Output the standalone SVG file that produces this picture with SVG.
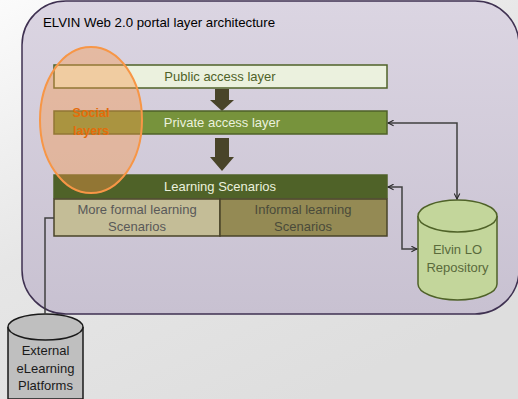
<svg xmlns="http://www.w3.org/2000/svg" width="518" height="399" viewBox="0 0 518 399">
<defs>
  <linearGradient id="bg" x1="0" y1="0" x2="0.6" y2="1">
    <stop offset="0" stop-color="#fbfbfb"/>
    <stop offset="0.5" stop-color="#e6e6e6"/>
    <stop offset="1" stop-color="#dedede"/>
  </linearGradient>
  <linearGradient id="panel" x1="0" y1="0" x2="0" y2="1">
    <stop offset="0" stop-color="#dbd5e2"/>
    <stop offset="1" stop-color="#c8c1d1"/>
  </linearGradient>
  <marker id="arr" viewBox="0 0 10 10" refX="9" refY="5" markerWidth="7" markerHeight="7" orient="auto-start-reverse" markerUnits="userSpaceOnUse">
    <path d="M1,1 L9,5 L1,9" fill="none" stroke="#262626" stroke-width="1.5"/>
  </marker>
  <style>
    text { font-family: "Liberation Sans", Arial, sans-serif; }
    .lbl { font-size: 13px; text-anchor: middle; }
    .box { stroke: #4f6228; stroke-width: 1.5; }
    .blk { fill: #494429; }
    .conn { fill: none; stroke: #404040; stroke-width: 1.5; }
    .soc { font-size: 12.5px; font-weight: bold; text-anchor: middle; fill: #e46c0a; }
  </style>
</defs>
<rect x="0" y="0" width="518" height="399" fill="url(#bg)"/>
<g id="container">
  <rect x="22" y="1" width="497" height="313" rx="44" ry="44" fill="url(#panel)" stroke="#3f3151" stroke-width="1.5"/>
  <text x="43" y="27" font-size="13" fill="#000" textLength="232" lengthAdjust="spacingAndGlyphs">ELVIN Web 2.0 portal layer architecture</text>
</g>
<g id="public-layer">
  <rect class="box" x="54" y="65" width="333" height="23" fill="#ebf1de"/>
  <text class="lbl" x="220" y="81" fill="#4f6228">Public access layer</text>
</g>
<g id="arrow1">
  <polygon class="blk" points="215,89 229,89 229,100 234,100 222,111 210,100 215,100"/>
</g>
<g id="private-layer">
  <rect class="box" x="54" y="111" width="333" height="23" fill="#77933c"/>
  <text class="lbl" x="222" y="127" fill="#ebf1de">Private access layer</text>
</g>
<g id="arrow2">
  <polygon class="blk" points="215,138 229,138 229,157 234,157 222,171 210,157 215,157"/>
</g>
<g id="learning-scenarios">
  <rect x="54" y="175" width="333" height="23" fill="#4f6228" stroke="#4f6228" stroke-width="1.5"/>
  <text class="lbl" x="220" y="191" fill="#ebf1de">Learning Scenarios</text>
</g>
<g id="formal">
  <rect x="54" y="199" width="166" height="37" fill="#c4bd97" stroke="#494429" stroke-width="1.5"/>
  <text class="lbl" x="137" y="214" fill="#595959">More formal learning</text>
  <text class="lbl" x="137" y="231" fill="#595959">Scenarios</text>
</g>
<g id="informal">
  <rect x="220" y="199" width="167" height="37" fill="#948a54" stroke="#494429" stroke-width="1.5"/>
  <text class="lbl" x="303" y="214" fill="#4a4a3a">Informal learning</text>
  <text class="lbl" x="303" y="231" fill="#4a4a3a">Scenarios</text>
</g>
<g id="social-layers">
  <ellipse cx="91" cy="120" rx="51" ry="73" fill="#f79646" fill-opacity="0.4" stroke="#f79646" stroke-width="2"/>
  <text class="soc" x="91" y="117">Social</text>
  <text class="soc" x="91" y="135">layers</text>
</g>
<g id="elvin-repository">
  <path d="M418,216 L418,284 A39.5,16 0 0 0 497,284 L497,216" fill="#c3d69b" stroke="#4f6228" stroke-width="1.5"/>
  <ellipse cx="457.5" cy="216" rx="39.5" ry="16" fill="#c3d69b" stroke="#4f6228" stroke-width="1.5"/>
  <text class="lbl" x="457.5" y="254" fill="#5a6a3c">Elvin LO</text>
  <text class="lbl" x="457.5" y="272" fill="#5a6a3c">Repository</text>
</g>
<g id="external-platforms">
  <path d="M8,327 L8,399 L83,399 L83,327" fill="#bfbfbf" stroke="#1a1a1a" stroke-width="1.5"/>
  <ellipse cx="45.5" cy="327" rx="37.5" ry="13" fill="#bfbfbf" stroke="#1a1a1a" stroke-width="1.5"/>
  <text class="lbl" x="45.5" y="355" fill="#1a1a1a">External</text>
  <text class="lbl" x="45.5" y="373" fill="#1a1a1a">eLearning</text>
  <text class="lbl" x="45.5" y="390" fill="#1a1a1a">Platforms</text>
</g>
<g id="connectors">
  <polyline class="conn" points="388,123 457,123 457,199" marker-start="url(#arr)" marker-end="url(#arr)"/>
  <polyline class="conn" points="388,187 402,187 402,249 417,249" marker-start="url(#arr)" marker-end="url(#arr)"/>
  <polyline class="conn" points="54,218 45,218 45,314"/>
</g>
</svg>
